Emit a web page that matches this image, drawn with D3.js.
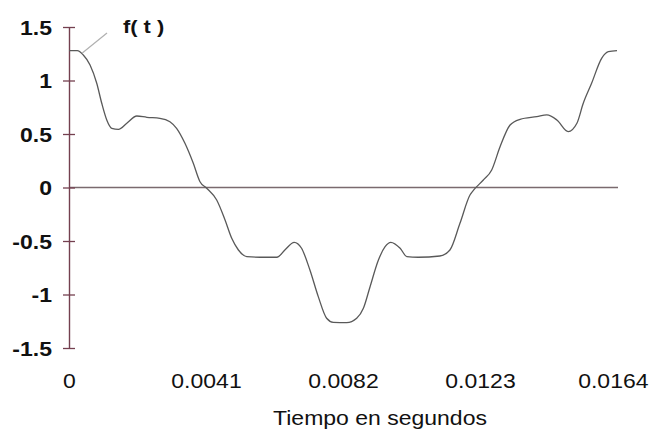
<!DOCTYPE html>
<html>
<head>
<meta charset="utf-8">
<script src="https://cdn.jsdelivr.net/npm/d3@7"></script>
<style>
  html, body { margin: 0; padding: 0; background: #fff; }
  svg { display: block; }
  text { font-family: "Liberation Sans", Arial, sans-serif; fill: #111; }
</style>
</head>
<body>
<svg id="chart" width="650" height="435"></svg>
<script>
// Sampled waveform f(t) over one period
const timeS = [0, 0.000248, 0.000428, 0.00063, 0.00083, 0.00098, 0.00113, 0.00128, 0.00148,
  0.00173, 0.00203, 0.00233, 0.00272, 0.00302, 0.00322, 0.00347, 0.00372, 0.00392, 0.00412,
  0.00442, 0.00467, 0.00487, 0.00507, 0.00532, 0.00572, 0.00622, 0.00646, 0.00674, 0.00696,
  0.00721, 0.00746, 0.00771, 0.00791, 0.00831, 0.00861, 0.00881, 0.00901, 0.00926, 0.00946,
  0.00963, 0.00991, 0.01011, 0.01045, 0.0111, 0.0114, 0.0117, 0.0120, 0.01212, 0.01240,
  0.01265, 0.0129, 0.0132, 0.01350, 0.0140, 0.0143, 0.0146, 0.01494, 0.0152, 0.01539,
  0.01564, 0.01594, 0.01614, 0.0164];
const fValues = [1.279, 1.279, 1.238, 1.145, 0.974, 0.787, 0.631, 0.553, 0.544,
  0.60, 0.668, 0.656, 0.647, 0.615, 0.553, 0.413, 0.226, 0.054, -0.007,
  -0.117, -0.304, -0.475, -0.584, -0.646, -0.652, -0.652, -0.584, -0.512, -0.568,
  -0.771, -1.02, -1.222, -1.26, -1.263, -1.222, -1.129, -0.927, -0.678, -0.553,
  -0.512, -0.568, -0.646, -0.652, -0.64, -0.584, -0.335, -0.07, -0.02, 0.07,
  0.164, 0.381, 0.584, 0.637, 0.662, 0.678, 0.631, 0.522, 0.60, 0.787,
  0.974, 1.207, 1.269, 1.279];

const xTicks = [0, 0.0041, 0.0082, 0.0123, 0.0164];
const xTickLabels = ["0", "0.0041", "0.0082", "0.0123", "0.0164"];
const yTicks = [-1.5, -1, -0.5, 0, 0.5, 1, 1.5];
const yTickLabels = ["-1.5", "-1", "-0.5", "0", "0.5", "1", "1.5"];
const xTitle = "Tiempo en segundos";
const seriesLabel = "f( t )";

const svg = d3.select("#chart");
const stretch = 1.15;

const x = d3.scaleLinear().domain([0, 0.0164]).range([69, 617]);
const y = d3.scaleLinear().domain([-1.5, 1.5]).range([348, 27]);

// zero reference line
svg.append("line")
  .attr("x1", x(0)).attr("x2", x(0.0164) + 1)
  .attr("y1", y(0)).attr("y2", y(0))
  .attr("stroke", "#7a6a6e").attr("stroke-width", 1.3);

// vertical axis with crossing tick marks
const yAxis = svg.append("g")
  .attr("transform", `translate(${x(0)},0)`)
  .call(d3.axisLeft(y).tickValues(yTicks)
    .tickFormat((d, i) => yTickLabels[i]).tickSizeOuter(0).tickSizeInner(6));
yAxis.select(".domain").attr("stroke", "#74404f").attr("stroke-width", 1.4);
yAxis.selectAll(".tick line").attr("x1", -6).attr("x2", 6)
  .attr("stroke", "#74404f").attr("stroke-width", 1.3);
yAxis.selectAll(".tick text")
  .attr("x", -17 / stretch).attr("dy", "0.36em")
  .attr("transform", `scale(${stretch},1)`)
  .style("font-size", "20px").style("font-weight", "bold")
  .style("font-family", "'Liberation Sans', Arial, sans-serif").attr("fill", "#111");

// horizontal tick labels below the plot
const xAxis = svg.append("g")
  .attr("transform", "translate(0,371)")
  .call(d3.axisBottom(x).tickValues(xTicks)
    .tickFormat((d, i) => xTickLabels[i]).tickSize(0).tickPadding(3));
xAxis.select(".domain").remove();
xAxis.selectAll(".tick text")
  .attr("transform", `scale(${stretch},1)`)
  .style("font-size", "20px")
  .style("font-family", "'Liberation Sans', Arial, sans-serif").attr("fill", "#111");
// keep the last label inside the frame
xAxis.selectAll(".tick text").filter((d, i, n) => i === n.length - 1)
  .attr("text-anchor", "end").attr("x", 31 / stretch);

// axis title
svg.append("g").attr("transform", "translate(380,425)")
  .append("text")
  .attr("text-anchor", "middle")
  .attr("transform", `scale(${stretch},1)`)
  .style("font-size", "20px")
  .text(xTitle);

// waveform
const line = d3.line()
  .x((d, i) => x(timeS[i]))
  .y(d => y(d))
  .curve(d3.curveMonotoneX);
svg.append("path")
  .datum(fValues)
  .attr("d", line)
  .attr("fill", "none")
  .attr("stroke", "#595959")
  .attr("stroke-width", 1.3);

// series label with leader line
svg.append("line")
  .attr("x1", x(timeS[2]) - 1).attr("y1", y(fValues[2]) - 2)
  .attr("x2", 107).attr("y2", 33)
  .attr("stroke", "#b0b0b0").attr("stroke-width", 1.2);
svg.append("g").attr("transform", "translate(123,33)")
  .append("text")
  .attr("transform", `scale(${stretch},1)`)
  .style("font-size", "19px").style("font-weight", "bold")
  .text(seriesLabel);
</script>
</body>
</html>
